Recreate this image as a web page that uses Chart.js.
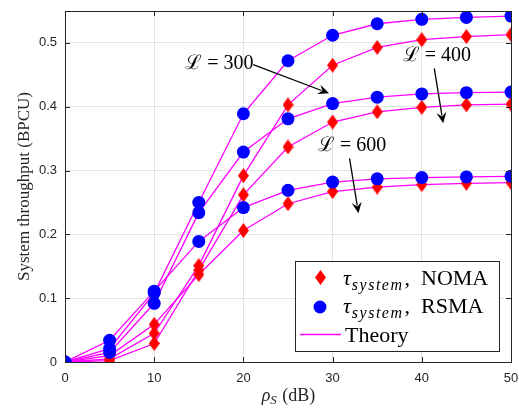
<!DOCTYPE html>
<html>
<head>
<meta charset="utf-8">
<script src="https://cdn.jsdelivr.net/npm/chart.js@4/dist/chart.umd.min.js"></script>
<style>
  html, body { margin: 0; padding: 0; background: #fff; }
  #wrap { width: 519px; height: 409px; }
</style>
</head>
<body>
<div id="wrap"><canvas id="chart" width="519" height="409"></canvas></div>
<script>
// rho_S in dB
const snrDb = [0, 5, 10, 15, 20, 25, 30, 35, 40, 45, 50]
const yTicks = [0, 0.1, 0.2, 0.3, 0.4, 0.5]

// L = 300 (upper pair)
const rsmaL300 = [0, 0.021, 0.108, 0.250, 0.389, 0.472, 0.512, 0.530, 0.537, 0.540, 0.542]
const nomaL300 = [0, 0.005, 0.045, 0.151, 0.292, 0.403, 0.465, 0.493, 0.505, 0.510, 0.513]
// L = 400 (middle pair)
const rsmaL400 = [0, 0.015, 0.092, 0.234, 0.329, 0.381, 0.405, 0.415, 0.420, 0.422, 0.423]
const nomaL400 = [0, 0.002, 0.029, 0.144, 0.262, 0.337, 0.376, 0.392, 0.399, 0.403, 0.404]
// L = 600 (lower pair)
const rsmaL600 = [0, 0.034, 0.111, 0.189, 0.242, 0.269, 0.282, 0.287, 0.289, 0.290, 0.291]
const nomaL600 = [0, 0.010, 0.059, 0.137, 0.206, 0.248, 0.267, 0.274, 0.278, 0.280, 0.281]

const labels = [
  { text: 'ℒ = 300', x: 17.3, y: 0.468, from: [21.1, 0.466], to: [29.6, 0.421] },
  { text: 'ℒ = 400', x: 41.7, y: 0.480, from: [41.4, 0.460], to: [42.4, 0.374] },
  { text: 'ℒ = 600', x: 32.2, y: 0.339, from: [31.9, 0.319], to: [32.9, 0.233] }
]

const MAGENTA = '#ff00ff'
const AXIS = '#262626'
const SERIF = '"Liberation Serif", "DejaVu Serif", serif'

// red diamond marker, a little taller than wide like matlab's
function makeDiamond(w, h) {
  const c = document.createElement('canvas')
  c.width = w; c.height = h
  const g = c.getContext('2d')
  g.fillStyle = '#ff0000'
  g.beginPath()
  g.moveTo(w / 2, 0); g.lineTo(w, h / 2); g.lineTo(w / 2, h); g.lineTo(0, h / 2)
  g.closePath(); g.fill()
  return c
}
const diamond = makeDiamond(11, 15)

const toPts = (arr) => arr.map((v, i) => ({ x: snrDb[i], y: v }))

const lineSet = (arr) => ({
  data: toPts(arr), borderColor: MAGENTA, borderWidth: 1.3, pointRadius: 0,
  fill: false, tension: 0, order: 2
})
const nomaSet = (arr) => ({
  data: toPts(arr), showLine: false, pointStyle: diamond, pointRadius: 7,
  pointBackgroundColor: '#ff0000', pointBorderWidth: 0, order: 1
})
const rsmaSet = (arr) => ({
  data: toPts(arr), showLine: false, pointStyle: 'circle', pointRadius: 6.5,
  pointBackgroundColor: '#0000ff', pointBorderWidth: 0, order: 0
})

function arrow(ctx, x1, y1, x2, y2) {
  const a = Math.atan2(y2 - y1, x2 - x1)
  const len = 11, wid = 5
  const bx = x2 - len * Math.cos(a), by = y2 - len * Math.sin(a)
  ctx.beginPath()
  ctx.moveTo(x1, y1); ctx.lineTo(bx + 3 * Math.cos(a), by + 3 * Math.sin(a))
  ctx.stroke()
  ctx.beginPath()
  ctx.moveTo(x2, y2)
  ctx.lineTo(bx - wid * Math.sin(a), by + wid * Math.cos(a))
  ctx.lineTo(bx + 4 * Math.cos(a), by + 4 * Math.sin(a))
  ctx.lineTo(bx + wid * Math.sin(a), by - wid * Math.cos(a))
  ctx.closePath(); ctx.fill()
}

// tau_{system}, XXX
function tauLabel(ctx, x, y, rest) {
  ctx.textAlign = 'left'
  ctx.textBaseline = 'alphabetic'
  ctx.font = 'italic 22px ' + SERIF
  ctx.fillText('τ', x, y)
  x += ctx.measureText('τ').width + 1
  ctx.font = 'italic 16px ' + SERIF
  ctx.letterSpacing = '1.5px'
  ctx.fillText('system', x, y + 5)
  x += ctx.measureText('system').width + 1
  ctx.letterSpacing = '0px'
  ctx.font = '22px ' + SERIF
  ctx.fillText(',  ' + rest, x, y)
}

const decor = {
  id: 'decor',
  afterDraw(chart) {
    const { ctx, chartArea: a, scales } = chart
    const sx = scales.x, sy = scales.y
    ctx.save()
    // box + inward ticks
    ctx.strokeStyle = AXIS
    ctx.lineWidth = 1
    ctx.strokeRect(a.left + 0.5, a.top + 0.5, a.right - a.left, a.bottom - a.top)
    ctx.beginPath()
    for (const v of [10, 20, 30, 40]) {
      const px = Math.round(sx.getPixelForValue(v)) + 0.5
      ctx.moveTo(px, a.bottom); ctx.lineTo(px, a.bottom - 5)
      ctx.moveTo(px, a.top); ctx.lineTo(px, a.top + 5)
    }
    for (const v of yTicks.slice(1)) {
      const py = Math.round(sy.getPixelForValue(v)) + 0.5
      ctx.moveTo(a.left, py); ctx.lineTo(a.left + 5, py)
      ctx.moveTo(a.right, py); ctx.lineTo(a.right - 5, py)
    }
    ctx.stroke()

    // annotations
    ctx.fillStyle = '#000'
    ctx.strokeStyle = '#000'
    ctx.lineWidth = 1.3
    ctx.font = '20px ' + SERIF
    ctx.textAlign = 'center'
    ctx.textBaseline = 'middle'
    for (const l of labels) {
      ctx.fillText(l.text, sx.getPixelForValue(l.x), sy.getPixelForValue(l.y))
      arrow(ctx, sx.getPixelForValue(l.from[0]), sy.getPixelForValue(l.from[1]),
        sx.getPixelForValue(l.to[0]), sy.getPixelForValue(l.to[1]))
    }

    // legend
    const lx = a.right - 216, ly = a.bottom - 101
    ctx.fillStyle = '#fff'
    ctx.fillRect(lx, ly, 204, 90)
    ctx.strokeStyle = AXIS
    ctx.lineWidth = 1
    ctx.strokeRect(lx + 0.5, ly + 0.5, 204, 90)
    ctx.drawImage(diamond, lx + 20, ly + 9)
    ctx.fillStyle = '#0000ff'
    ctx.beginPath(); ctx.arc(lx + 25, ly + 46, 6.5, 0, Math.PI * 2); ctx.fill()
    ctx.strokeStyle = MAGENTA
    ctx.lineWidth = 1.3
    ctx.beginPath(); ctx.moveTo(lx + 5, ly + 73.5); ctx.lineTo(lx + 46, ly + 73.5); ctx.stroke()
    ctx.fillStyle = '#000'
    tauLabel(ctx, lx + 48, ly + 24, 'NOMA')
    tauLabel(ctx, lx + 48, ly + 52, 'RSMA')
    ctx.font = '22px ' + SERIF
    ctx.fillText('Theory', lx + 50, ly + 81)

    // x title: rho_S (dB)
    const cx = (a.left + a.right) / 2
    ctx.fillStyle = AXIS
    ctx.textBaseline = 'alphabetic'
    ctx.font = 'italic 18px ' + SERIF
    const w1 = ctx.measureText('ρ').width
    ctx.font = 'italic 13px ' + SERIF
    const w2 = ctx.measureText('S').width
    ctx.font = '18px ' + SERIF
    const w3 = ctx.measureText(' (dB)').width
    let x0 = cx - (w1 + w2 + w3) / 2
    const by = 401
    ctx.font = 'italic 18px ' + SERIF
    ctx.fillText('ρ', x0, by)
    ctx.font = 'italic 13px ' + SERIF
    ctx.fillText('S', x0 + w1, by + 3)
    ctx.font = '18px ' + SERIF
    ctx.fillText(' (dB)', x0 + w1 + w2 + 1, by)
    ctx.restore()
  }
}

new Chart(document.getElementById('chart'), {
  type: 'line',
  data: {
    datasets: [
      lineSet(rsmaL300), lineSet(nomaL300), lineSet(rsmaL400),
      lineSet(nomaL400), lineSet(rsmaL600), lineSet(nomaL600),
      nomaSet(nomaL300), nomaSet(nomaL400), nomaSet(nomaL600),
      rsmaSet(rsmaL300), rsmaSet(rsmaL400), rsmaSet(rsmaL600)
    ]
  },
  options: {
    responsive: false,
    animation: false,
    layout: { padding: { left: 0, right: 8, top: 11, bottom: 0 } },
    plugins: { legend: { display: false }, tooltip: { enabled: false } },
    scales: {
      x: {
        type: 'linear', min: 0, max: 50,
        afterFit: (s) => {
          s.height = 47
          s.paddingLeft = 0
          s.paddingRight = 0
        },
        grid: { color: '#e3e3e3', drawTicks: false },
        border: { color: AXIS },
        ticks: { stepSize: 10, padding: 9, color: AXIS, font: { family: '"Liberation Sans", Arial', size: 13 } }
      },
      y: {
        min: 0, max: 0.55,
        afterFit: (s) => {
          s.width = 65
          s.paddingTop = 0
          s.paddingBottom = 0
        },
        afterBuildTicks: (s) => { s.ticks = yTicks.map((v) => ({ value: v })) },
        grid: { color: '#e3e3e3', drawTicks: false },
        border: { color: AXIS },
        ticks: {
          padding: 8, color: AXIS, font: { family: '"Liberation Sans", Arial', size: 13 },
          callback: (v) => String(Math.round(v * 10) / 10)
        },
        title: {
          display: true, text: 'System throughput (BPCU)', color: AXIS,
          font: { family: SERIF, size: 17 }, padding: { top: 14, bottom: 0 }
        }
      }
    }
  },
  plugins: [decor]
})
</script>
</body>
</html>
